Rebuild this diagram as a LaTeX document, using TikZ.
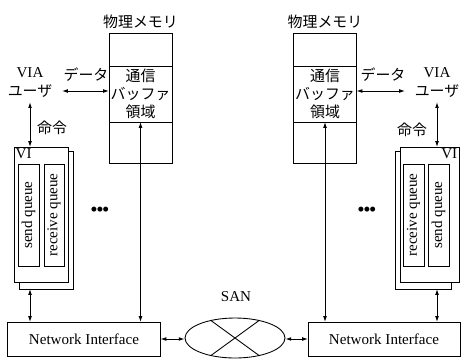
\documentclass[tikz,border=0pt]{standalone}
\usepackage{fontspec}
\setmainfont{Liberation Serif}
\newfontfamily\jp{Noto Sans CJK JP}
\usepackage{tikz}
\usetikzlibrary{arrows.meta, positioning, shapes.geometric}
\newlength\px
\setlength\px{0.69pt}
\tikzset{
  cell/.style={rectangle, draw, fill=white, inner sep=0pt, outer sep=0pt,
    line width=0.6pt},
  memcell/.style={cell, minimum width=63\px, font=\jp\fontsize{10.3}{12.5}\selectfont,
    align=center},
  vibox/.style={cell, minimum height=135\px},
  queuebox/.style={cell, minimum width=102\px, minimum height=21\px, rotate=90},
  nibox/.style={cell, minimum width=153\px, minimum height=34\px},
  jplabel/.style={font=\jp\fontsize{10.3}{12.5}\selectfont, inner sep=1pt},
  dotrow/.style={font=\Large, inner sep=0pt},
  dbl/.style={{Latex[length=4pt,width=2.6pt]}-{Latex[length=4pt,width=2.6pt]},
    line width=0.6pt}
}

\begin{document}
\begin{tikzpicture}[x=\px, y=-\px, every node/.append style={font=\fontsize{10.4}{12.5}\selectfont}]
  \useasboundingbox (0,0) rectangle (461,358);
  % physical memory
  \node[memcell, minimum height=33\px] (memLa) at (140.5,49.5) {};
  \node[memcell, minimum height=56\px, below=0pt of memLa] (memLb) {通信\\バッファ\\領域};
  \node[memcell, minimum height=41\px, below=0pt of memLb] (memLc) {};
  \node[jplabel, above=3\px of memLa] (physL) {物理メモリ};
  \node[memcell, minimum height=33\px] (memRa) at (325,49.5) {};
  \node[memcell, minimum height=56\px, below=0pt of memRa] (memRb) {通信\\バッファ\\領域};
  \node[memcell, minimum height=41\px, below=0pt of memRb] (memRc) {};
  \node[jplabel, above=3\px of memRa] (physR) {物理メモリ};
  % VIA users
  \node[jplabel] (userL) at (30,91) {ユーザ};
  \node[inner sep=1pt] (viaL) at (30,73) {VIA};
  \node[jplabel] (dataL) at (86,75) {データ};
  \node[jplabel] (userR) at (437,91) {ユーザ};
  \node[inner sep=1pt] (viaR) at (437,73) {VIA};
  \node[jplabel] (dataR) at (383,75) {データ};
  % VI stacks
  \node[vibox, minimum width=54\px, minimum height=138\px] (viLb) at (46,220) {};
  \node[vibox, minimum width=54\px] (viLf) at (41,214.5) {};
  \node[anchor=north west, inner sep=1pt] (viLlab) at (viLf.north west) {VI};
  \node[queuebox] (sqL) at (28.5,215) {send queue};
  \node[queuebox, minimum height=20\px] (rqL) at (54,215) {receive queue};
  \node[vibox, minimum width=56\px, minimum height=138\px] (viRb) at (423,220) {};
  \node[vibox, minimum width=59\px] (viRf) at (429.5,214.5) {};
  \node[anchor=north east, inner sep=1pt] (viRlab) at (viRf.north east) {VI};
  \node[queuebox, minimum height=21\px] (rqR) at (413.5,215) {receive queue};
  \node[queuebox] (sqR) at (438.5,215) {send queue};
  \node[jplabel] (cmdL) at (52,128) {命令};
  \node[jplabel] (cmdR) at (412,130) {命令};
  \node[dotrow] (dotsL) at (100,212) {\textbullet\kern-1pt\textbullet\kern-1pt\textbullet};
  \node[dotrow] (dotsR) at (367,212) {\textbullet\kern-1pt\textbullet\kern-1pt\textbullet};
  % network
  \node[nibox] (niL) at (84,339) {Network Interface};
  \node[nibox, minimum width=152\px] (niR) at (384,339) {Network Interface};
  \node[ellipse, draw, line width=0.6pt, minimum width=100\px, minimum height=40\px,
    inner sep=0pt] (san) at (235,338) {};
  \draw[line width=0.6pt] (san.144) -- (san.-36);
  \draw[line width=0.6pt] (san.36) -- (san.216);
  \node (sanlab) at (236,297) {SAN};
  % connectors
  \draw[dbl, shorten <=8\px] (userL.east) -- (userL.east -| memLb.west);
  \draw[dbl, shorten >=8\px] (userR.west -| memRb.east) -- (userR.west);
  \draw[dbl, shorten <=3\px] (userL.south) -- (userL.south |- viLf.north);
  \draw[dbl, shorten <=3\px] (userR.south) -- (userR.south |- viRf.north);
  \draw[dbl] (memLb.south) -- (memLb.south |- niL.north);
  \draw[dbl] (memRb.south) -- (memRb.south |- niR.north);
  \draw[dbl] (userL.south |- viLb.south) -- (userL.south |- niL.north);
  \draw[dbl] (userR.south |- viRb.south) -- (userR.south |- niR.north);
  \draw[dbl] (niL.east) -- (niL.east -| san.west);
  \draw[dbl] (san.east |- niR.west) -- (niR.west);
\end{tikzpicture}
\end{document}
